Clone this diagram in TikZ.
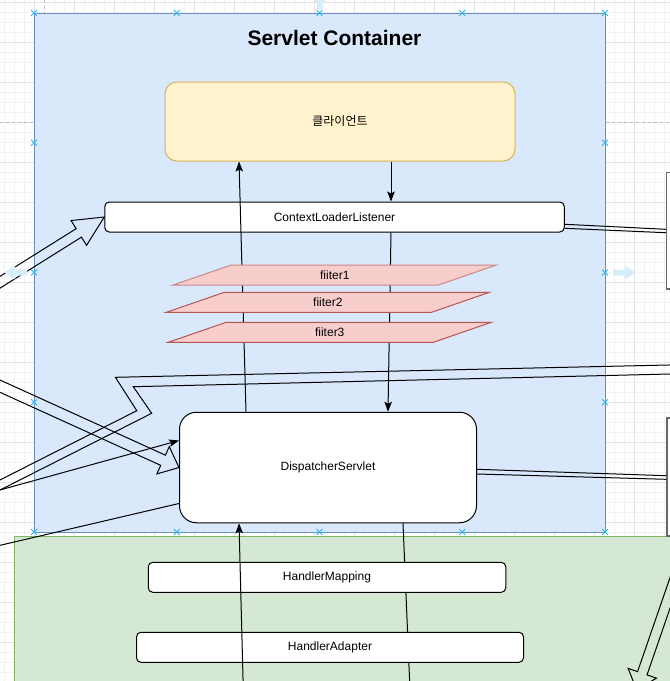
\documentclass[tikz,border=0pt]{standalone}
\usepackage{fontspec}
\setmainfont{Liberation Sans}
\newfontfamily\krfont{Noto Sans CJK KR}
\usetikzlibrary{shapes,arrows.meta,positioning,calc}

\definecolor{contfill}{HTML}{DAE8FC}
\definecolor{contline}{HTML}{6C8EBF}
\definecolor{clientfill}{HTML}{FFF2CC}
\definecolor{clientline}{HTML}{D6B656}
\definecolor{filtfill}{HTML}{F8CECC}
\definecolor{filtline}{HTML}{B85450}
\definecolor{webfill}{HTML}{D5E8D4}
\definecolor{webline}{HTML}{82B366}
\definecolor{handle}{HTML}{29B6F2}
\definecolor{hovercol}{HTML}{D6EDFA}

\tikzset{
  labelfont/.style={font=\fontsize{12}{14}\selectfont},
  plainbox/.style={draw=black, fill=white, rounded corners=4.5pt, line width=1pt, inner sep=0pt, labelfont},
  clientbox/.style={draw=clientline, fill=clientfill, rounded corners=12pt, line width=1pt, inner sep=0pt, labelfont},
  contbox/.style={draw=contline, fill=contfill, line width=1pt, inner sep=0pt},
  sidebox/.style={draw=black!60, fill=white, line width=1.5pt, inner sep=0pt},
  filterbox/.style={trapezium, trapezium stretches=true, trapezium left angle=47, trapezium right angle=133,
    draw=filtline, fill=filtfill, line width=1pt, minimum width=324pt, minimum height=20pt, inner sep=0pt, labelfont},
  flow/.style={line width=1pt, -{Stealth[length=10pt,width=7.5pt,inset=2pt]}},
  link/.style={line width=1pt},
  hollow/.style={line width=1pt, line join=miter},
  gridminor/.style={draw=black!5, line width=0.6pt},
  gridmajor/.style={draw=black!11, line width=0.8pt},
  pagebreak/.style={draw=black!25, dashed, line width=0.8pt},
  grip/.style={cross out, draw=handle, minimum size=5pt, inner sep=0pt, line width=0.9pt},
  hover/.style={fill=hovercol},
}

% outline of a hollow block arrow: from, to, half shaft, half head, head length
\newcommand{\flexarrow}[5]{%
  \path ($(#2)!#5!(#1)$) coordinate (fabase);
  \draw[hollow] ($(#1)!#3!90:(#2)$) -- ($(fabase)!#3!90:(#2)$) -- ($(fabase)!#4!90:(#2)$)
    -- (#2) -- ($(fabase)!#4!-90:(#2)$) -- ($(fabase)!#3!-90:(#2)$) -- ($(#1)!#3!-90:(#2)$);
}

\begin{document}
\begin{tikzpicture}[x=1pt,y=-1pt]
    \useasboundingbox (0,0) rectangle (670,681);
    \clip (0,0) rectangle (670,681);

    % Canvas grid
    \begin{scope}[shift={(-6,2.7)}]
        \draw[gridminor] (-10,-10) grid[step=10pt] (690,690);
        \draw[gridmajor] (-40,-40) grid[step=40pt] (720,720);
    \end{scope}
    \draw[pagebreak] (0,122) -- (670,122);
    \draw[pagebreak] (44,0) -- (44,681);

    % Web application context
    \draw[draw=webline, fill=webfill, line width=1pt] (14,536) rectangle (720,720);

    % Servlet container
    \node[contbox, minimum width=571pt, minimum height=519pt] (container) at (319.5,272.5) {};
    \node[font=\bfseries\fontsize{21}{24}\selectfont] (title) at (334.5,38) {Servlet Container};

    % Boxes on the right
    \node[sidebox, minimum width=60pt, minimum height=116.3pt] (sidetop) at (696.7,230.8) {};
    \node[sidebox, minimum width=60pt, minimum height=118pt] (sidebottom) at (697,477) {};

    % Main boxes
    \node[clientbox, minimum width=350pt, minimum height=79pt] (client) at (340,121.5) {\krfont 클라이언트};
    \node[plainbox, minimum width=459.5pt, minimum height=30pt] (ctxlistener) at (334.5,217) {ContextLoaderListener};
    \node[plainbox, rounded corners=17pt, minimum width=297pt, minimum height=110.5pt] (dispatcher) at (328,467.5) {DispatcherServlet};

    % Free ends
    \coordinate (lowerin) at (243.3,690);
    \coordinate (lowerout) at (410,690);
    \coordinate (leftinA) at (-40,307.3);
    \coordinate (leftinB) at (-20,495.5);
    \coordinate (leftinC) at (-20,550);
    \coordinate (leftinD) at (-40,368);
    \coordinate (sideout) at (700,506);
    \coordinate (downtip) at (636.6,689.8);

    % Request / response
    \draw[link] ($(dispatcher.south)+(75,0)$) -- (lowerout);
    \draw[flow] ($(dispatcher.north)+(-82,0)$) -- ($(client.south)+(-101,0)$);
    \draw[flow] ($(client.south)+(51,0)$) -- ($(ctxlistener.north)+(56.5,0)$);
    \draw[flow] ($(ctxlistener.south)+(56.5,0)$) -- ($(dispatcher.north)+(60,0)$);

    % Filters
    \node[filterbox, draw=filtline!70] (filterone) at (334.8,275) {fiiter1};
    \node[filterbox] (filtertwo) at (327.9,302.3) {fiiter2};
    \node[filterbox] (filterthree) at (329.75,332.3) {fiiter3};

    % Handlers
    \node[plainbox, minimum width=357.5pt, minimum height=30pt] (hmapping) at (327,577.3) {HandlerMapping};
    \node[plainbox, minimum width=387pt, minimum height=30pt] (hadapter) at (330,647.3) {HandlerAdapter};
    \draw[flow] (lowerin) -- ($(dispatcher.south)+(-89,0)$);

    % Links to the right boxes
    \draw[link] ($(ctxlistener.east)+(0,7.3)$) -- ($(sidetop.west)+(0,-1.5)$);
    \draw[link] ($(ctxlistener.east)+(0,11.3)$) -- ($(sidetop.west)+(0,1.9)$);
    \draw[link] ($(dispatcher.east)+(0,1.8)$) -- ($(sidebottom.west)+(0,-1.3)$);
    \draw[link] ($(dispatcher.east)+(0,6.5)$) -- ($(sidebottom.west)+(0,2.3)$);

    % Links from the left
    \flexarrow{leftinA}{ctxlistener.west}{5pt}{14.6pt}{30pt}
    \flexarrow{leftinD}{dispatcher.west}{5.6pt}{15pt}{17.5pt}
    \draw[flow] (leftinB) -- ($(dispatcher.west)+(0,-27)$);
    \draw[link] (leftinC) -- ($(dispatcher.west)+(0,36)$);
    \draw[hollow] (700,364.3) -- (115.4,377.3) -- (136.8,410.7) -- (-20,490.1);
    \draw[hollow] (700,373.3) -- (133.3,386.7) -- (151.7,413.3) -- (-20,500.1);
    \flexarrow{sideout}{downtip}{5pt}{15pt}{17.5pt}

    % Selection handles
    \foreach \hx [count=\i] in {34,176.75,319.5,462.25,605} {
        \node[grip] (griptop\i) at (\hx,13) {};
        \node[grip] (gripbot\i) at (\hx,532) {};
    }
    \foreach \hy [count=\i] in {142.75,272.5,402.25} {
        \node[grip] (gripleft\i) at (34,\hy) {};
        \node[grip] (gripright\i) at (605,\hy) {};
    }
    % Hover arrows
    \fill[hover] (613,269.5) -- (625,269.5) -- (625,265.5) -- (635.5,272.5) -- (625,279.5) -- (625,275.5) -- (613,275.5) -- cycle;
    \fill[hover] (27,269.5) -- (15,269.5) -- (15,265.5) -- (4.5,272.5) -- (15,279.5) -- (15,275.5) -- (27,275.5) -- cycle;
    \fill[hover] (316.5,9) -- (316.5,2) -- (313,2) -- (319.5,-5) -- (326,2) -- (322.5,2) -- (322.5,9) -- cycle;
\end{tikzpicture}
\end{document}
